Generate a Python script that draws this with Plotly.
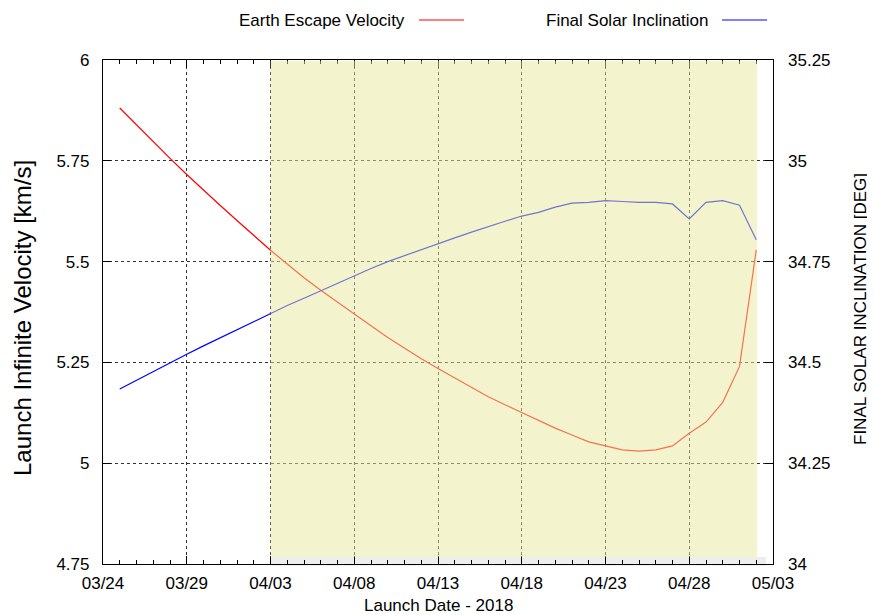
import plotly.graph_objects as go
import pandas as pd

# ---- data ----
launch_dates = [d.strftime("%Y-%m-%d") for d in pd.date_range("2018-03-25", "2018-05-02", freq="D")]

earth_escape_velocity = [
    5.881, 5.839, 5.797, 5.756, 5.716, 5.677, 5.639, 5.602, 5.564, 5.528,
    5.494, 5.460, 5.429, 5.399, 5.371, 5.341, 5.312, 5.285, 5.259, 5.235,
    5.211, 5.188, 5.165, 5.145, 5.125, 5.105, 5.087, 5.070, 5.053, 5.043,
    5.033, 5.030, 5.033, 5.043, 5.074, 5.102, 5.151, 5.240, 5.529,
]

final_solar_inclination = [
    34.434, 34.456, 34.478, 34.499, 34.520, 34.541, 34.561, 34.581, 34.602, 34.622,
    34.641, 34.659, 34.678, 34.697, 34.715, 34.733, 34.750, 34.765, 34.780, 34.795,
    34.809, 34.823, 34.837, 34.850, 34.863, 34.872, 34.885, 34.895, 34.897, 34.901,
    34.899, 34.897, 34.897, 34.893, 34.856, 34.897, 34.901, 34.890, 34.804,
]

x_tick_dates = ["2018-03-24", "2018-03-29", "2018-04-03", "2018-04-08", "2018-04-13",
                "2018-04-18", "2018-04-23", "2018-04-28", "2018-05-03"]
x_tick_labels = ["03/24", "03/29", "04/03", "04/08", "04/13", "04/18", "04/23", "04/28", "05/03"]

y1_tick_vals = [4.75, 5.0, 5.25, 5.5, 5.75, 6.0]
y1_tick_labels = ["4.75", "5", "5.25", "5.5", "5.75", "6"]
y2_tick_vals = [34.0, 34.25, 34.5, 34.75, 35.0, 35.25]
y2_tick_labels = ["34", "34.25", "34.5", "34.75", "35", "35.25"]

shade_start = "2018-04-03"
shade_end = "2018-05-02 01:00"

FONT = "Liberation Sans, Arial, Helvetica, sans-serif"

fig = go.Figure()
fig.add_trace(go.Scatter(x=launch_dates, y=earth_escape_velocity, mode="lines",
                         line=dict(color="#ff0000", width=1.2), name="Earth Escape Velocity",
                         yaxis="y"))
fig.add_trace(go.Scatter(x=launch_dates, y=final_solar_inclination, mode="lines",
                         line=dict(color="#0000ff", width=1.2), name="Final Solar Inclination",
                         yaxis="y2"))

# page body has an 8px default margin, so the figure is 8px smaller and shifted
OFF = 8
W, H = 875 - OFF, 615 - OFF
PL, PR, PT, PB = 103, 773, 60, 564   # plot-area edges in window pixels
L, R, T, B = PL - OFF, W - (PR - OFF), PT - OFF, H - (PB - OFF)
pw, ph = PR - PL, PB - PT

def px_x(p):
    return (p - PL) / pw

def px_y(p):
    return (PB - p) / ph

fig.update_layout(
    width=W, height=H,
    margin=dict(l=L, r=R, t=T, b=B, pad=0),
    paper_bgcolor="white", plot_bgcolor="white",
    showlegend=False,
    font=dict(family=FONT, size=17, color="black"),
    xaxis=dict(
        type="date", range=["2018-03-24", "2018-05-03"],
        tickmode="array", tickvals=x_tick_dates, ticktext=x_tick_labels,
        ticks="inside", ticklen=8, tickcolor="black", tickwidth=1,
        minor=dict(dtick=86400000, tick0="2018-03-24", ticks="inside", ticklen=4,
                   tickcolor="black", showgrid=False),
        showline=True, linecolor="black", linewidth=1.2, mirror="ticks",
        showgrid=True, gridcolor="#333333", griddash="dot", gridwidth=1,
        zeroline=False, ticklabelstandoff=3,
        tickfont=dict(size=17),
    ),
    yaxis=dict(
        range=[4.75, 6.0], tickmode="array", tickvals=y1_tick_vals, ticktext=y1_tick_labels,
        ticks="inside", ticklen=8, tickcolor="black",
        showline=True, linecolor="black", linewidth=1.2, mirror="ticks",
        showgrid=True, gridcolor="#333333", griddash="dot", gridwidth=1,
        zeroline=False, ticklabelstandoff=9,
        tickfont=dict(size=17),
    ),
    yaxis2=dict(
        range=[34.0, 35.25], overlaying="y", side="right",
        tickmode="array", tickvals=y2_tick_vals, ticktext=y2_tick_labels,
        ticks="inside", ticklen=8, tickcolor="black",
        showline=False, showgrid=False, zeroline=False, ticklabelstandoff=14,
        tickfont=dict(size=17),
    ),
)

# shaded window (semi-transparent overlay above the lines)
fig.add_shape(type="rect", xref="x", yref="paper",
              x0=shade_start, x1=shade_end, y0=px_y(557), y1=px_y(61),
              fillcolor="rgba(232,232,156,0.5)", line=dict(width=0), layer="above")
fig.add_shape(type="rect", xref="x", yref="paper",
              x0=shade_start, x1="2018-05-02 14:00", y0=px_y(566), y1=px_y(557),
              fillcolor="#eeeeee", line=dict(width=0), layer="below")

# legend (text followed by line sample, as in the reference)
fig.add_annotation(x=px_x(407), y=px_y(20), xref="paper", yref="paper",
                   text="Earth Escape Velocity", showarrow=False,
                   xanchor="right", yanchor="middle", font=dict(size=17))
fig.add_shape(type="line", xref="paper", yref="paper",
              x0=px_x(419), x1=px_x(464), y0=px_y(20), y1=px_y(20),
              line=dict(color="#ff0000", width=1.2))
fig.add_annotation(x=px_x(711), y=px_y(20), xref="paper", yref="paper",
                   text="Final Solar Inclination", showarrow=False,
                   xanchor="right", yanchor="middle", font=dict(size=17))
fig.add_shape(type="line", xref="paper", yref="paper",
              x0=px_x(722), x1=px_x(767), y0=px_y(20), y1=px_y(20),
              line=dict(color="#0000ff", width=1.2))

# axis titles
fig.add_annotation(x=0.5, y=px_y(605), xref="paper", yref="paper",
                   text="Launch Date - 2018", showarrow=False,
                   xanchor="center", yanchor="middle", font=dict(size=17))
fig.add_annotation(x=px_x(22), y=px_y(318), xref="paper", yref="paper",
                   text="Launch Infinite Velocity [km/s]", showarrow=False, textangle=-90,
                   xanchor="center", yanchor="middle", font=dict(size=24))
fig.add_annotation(x=px_x(860), y=px_y(309), xref="paper", yref="paper",
                   text="FINAL SOLAR INCLINATION [DEG]", showarrow=False, textangle=-90,
                   xanchor="center", yanchor="middle", font=dict(size=17))

fig.write_html("out.html")
